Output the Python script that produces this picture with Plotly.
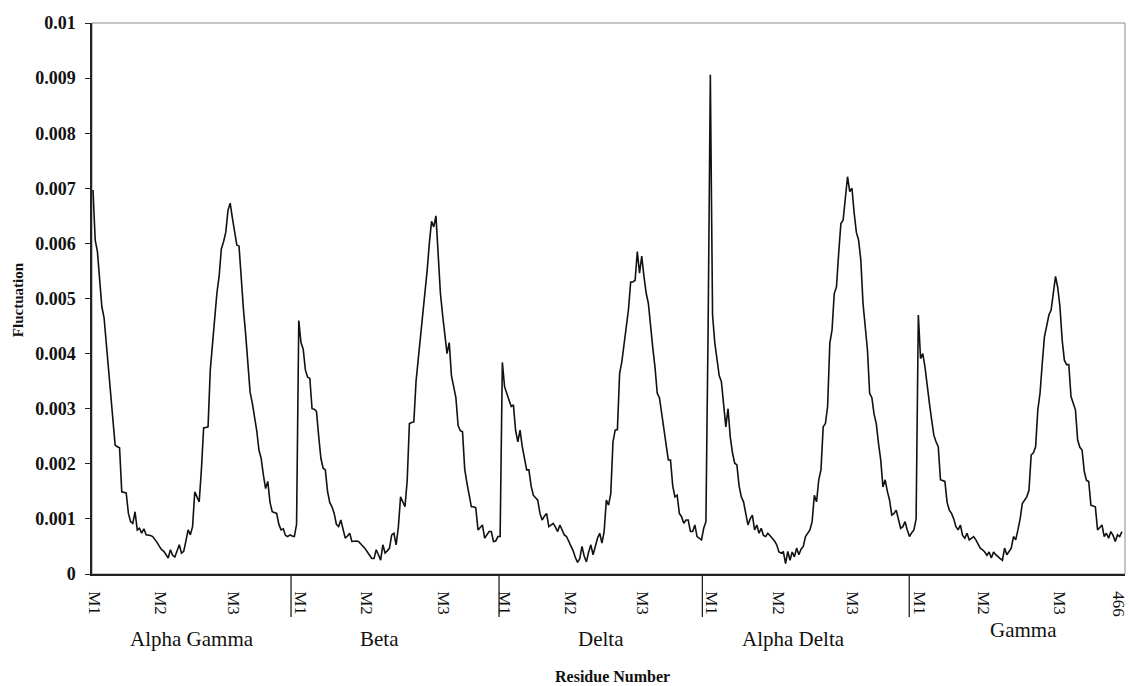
import plotly.graph_objects as go

# ---- data (fluctuation per residue) ----
alpha_gamma = [
    0.00697, 0.00606, 0.00585, 0.0053, 0.00485, 0.00465, 0.0042, 0.0037, 0.0033, 0.0028,
    0.00234, 0.00231, 0.00229, 0.00149, 0.00148, 0.00147, 0.0011, 0.00095, 0.00092, 0.00113,
    0.0008, 0.00083, 0.00074, 0.00082, 0.00071, 0.00071, 0.0007, 0.00068, 0.00063, 0.00057,
    0.0005, 0.00044, 0.00041, 0.00036, 0.00029, 0.00044, 0.00034, 0.00031, 0.00044, 0.00053,
    0.00038, 0.00041, 0.0006, 0.0008, 0.00071, 0.00086, 0.00149, 0.0014, 0.00131, 0.0019,
    0.00265, 0.00266, 0.00267, 0.0037, 0.00416, 0.0046, 0.0051, 0.0054, 0.0059, 0.00603,
    0.0062, 0.0066, 0.00673, 0.00646, 0.0062, 0.00597, 0.00595, 0.0053, 0.0048, 0.00435,
    0.0038, 0.0033, 0.0031, 0.00285, 0.0026, 0.00225, 0.0021, 0.0018, 0.00155, 0.00168,
    0.0013, 0.00113, 0.00112, 0.0011, 0.0009, 0.0008, 0.00082, 0.0007, 0.00068, 0.00071,
    0.00069, 0.00068, 0.0009,
]
beta = [
    0.0046, 0.0042, 0.00408, 0.0037, 0.00357, 0.00355, 0.0030, 0.00299, 0.00295, 0.0025,
    0.0021, 0.00192, 0.00189, 0.0015, 0.0013, 0.00122, 0.0011, 0.0009, 0.00086, 0.00098,
    0.0008, 0.00065, 0.00069, 0.00074, 0.00059, 0.0006, 0.0006, 0.00059, 0.00055, 0.0005,
    0.00046, 0.0004, 0.00035, 0.00028, 0.00028, 0.00044, 0.00035, 0.00025, 0.00053, 0.00038,
    0.00042, 0.00047, 0.00071, 0.00074, 0.00053, 0.00085, 0.0014, 0.0013, 0.00122, 0.0017,
    0.00273, 0.00275, 0.00276, 0.0035, 0.0039, 0.0043, 0.0047, 0.005, 0.0055, 0.006,
    0.0064, 0.0063, 0.0065, 0.0058, 0.0051, 0.0047, 0.0043, 0.004, 0.0042, 0.0036,
    0.0034, 0.0032, 0.0027, 0.0026, 0.00258, 0.0019, 0.00165, 0.0014, 0.00122, 0.00122,
    0.0012, 0.0008, 0.00085, 0.00089, 0.00065, 0.0007, 0.00077, 0.00077, 0.00059, 0.0006,
    0.00068, 0.00068,
]
delta = [
    0.00384, 0.0034, 0.00328, 0.0032, 0.00304, 0.00307, 0.0026, 0.0024, 0.00261, 0.00231,
    0.0021, 0.00189, 0.00189, 0.0016, 0.00143, 0.00138, 0.00134, 0.0011, 0.00098, 0.00105,
    0.0011, 0.00086, 0.00089, 0.00092, 0.00085, 0.00077, 0.00089, 0.0008, 0.00071, 0.00068,
    0.0006, 0.0005, 0.00042, 0.0003, 0.00021, 0.00028, 0.0005, 0.00032, 0.00022, 0.0004,
    0.00053, 0.00035, 0.00053, 0.00065, 0.00074, 0.00056, 0.00077, 0.00134, 0.00125, 0.00146,
    0.0024, 0.00261, 0.00262, 0.00364, 0.00385, 0.0042, 0.0045, 0.0048, 0.0053, 0.0053,
    0.00533, 0.00585, 0.00546, 0.00577, 0.0054, 0.0051, 0.00491, 0.00443, 0.0041, 0.00375,
    0.00328, 0.0032, 0.0029, 0.00267, 0.0023, 0.00207, 0.00207, 0.0016, 0.0014, 0.00143,
    0.0011, 0.00104, 0.00092, 0.00098, 0.00098, 0.00077, 0.00077, 0.00089, 0.00068, 0.00065,
    0.00062, 0.00083, 0.00095, 0.0045,
]
alpha_delta = [
    0.00906, 0.0047, 0.0042, 0.0039, 0.0036, 0.00349, 0.0031, 0.00267, 0.003, 0.00249,
    0.0022, 0.00201, 0.00198, 0.0016, 0.0014, 0.00131, 0.0011, 0.00089, 0.001, 0.00107,
    0.0008, 0.00089, 0.00074, 0.00083, 0.0007, 0.00068, 0.00074, 0.0007, 0.00065, 0.0006,
    0.00053, 0.0004, 0.00038, 0.0004, 0.00019, 0.00041, 0.00025, 0.0004, 0.00031, 0.00047,
    0.00035, 0.00045, 0.0005, 0.00068, 0.00074, 0.0008, 0.00095, 0.00143, 0.00131, 0.00171,
    0.00189, 0.00267, 0.00273, 0.00304, 0.00419, 0.00443, 0.00509, 0.00521, 0.00582, 0.00636,
    0.00642, 0.00679, 0.00721, 0.00694, 0.007, 0.00655, 0.0062, 0.00606, 0.0057, 0.00491,
    0.0045, 0.00407, 0.00328, 0.0032, 0.0029, 0.00273, 0.00237, 0.00207, 0.00158, 0.00171,
    0.0015, 0.00134, 0.00107, 0.0011, 0.00116, 0.00101, 0.00083, 0.00086, 0.00095, 0.0008,
    0.00068, 0.00075, 0.0008, 0.001,
]
gamma = [
    0.0047, 0.00391, 0.004, 0.00376, 0.00337, 0.0031, 0.0028, 0.00252, 0.0024, 0.00231,
    0.00171, 0.0017, 0.00168, 0.0013, 0.00116, 0.0011, 0.001, 0.00086, 0.0008, 0.00089,
    0.0007, 0.00065, 0.00074, 0.00062, 0.00065, 0.00068, 0.00062, 0.00055, 0.00047, 0.00044,
    0.0004, 0.00034, 0.0004, 0.00029, 0.0004, 0.00035, 0.00031, 0.00028, 0.00025, 0.00047,
    0.00035, 0.0004, 0.00047, 0.00068, 0.00062, 0.0008, 0.001, 0.00128, 0.00135, 0.0014,
    0.00152, 0.00216, 0.0022, 0.00231, 0.00298, 0.00328, 0.00382, 0.00431, 0.0045, 0.0047,
    0.00479, 0.0051, 0.0054, 0.0052, 0.00485, 0.00425, 0.00388, 0.0038, 0.0038, 0.00322,
    0.0031, 0.00298, 0.00243, 0.0023, 0.00225, 0.00186, 0.0017, 0.00168, 0.00125, 0.00123,
    0.00122, 0.0008, 0.00085, 0.00089, 0.00068, 0.00074, 0.00065, 0.00077, 0.0007, 0.00059,
    0.00071, 0.00068, 0.00077,
]

subunit_names = ["Alpha Gamma", "Beta", "Delta", "Alpha Delta", "Gamma"]
subunit_label_x = [45.7, 130.7, 230.5, 317.4, 421.7]
subunit_boundaries = [90.5, 184.5, 276.4, 369.9]
tick_labels = ["M1", "M2", "M3"] * 5 + ["466"]
tick_positions = [1.6, 31.3, 64.5, 94.6, 124.6, 159.6, 187.0, 216.9, 249.2,
                  280.6, 311.0, 344.1, 374.6, 403.4, 438.0, 464.5]
y_ticks = [0, 0.001, 0.002, 0.003, 0.004, 0.005, 0.006, 0.007, 0.008, 0.009, 0.01]
y_tick_text = ["0", "0.001", "0.002", "0.003", "0.004", "0.005", "0.006",
               "0.007", "0.008", "0.009", "0.01"]

fluct = alpha_gamma + beta + delta + alpha_delta + gamma
residues = list(range(1, len(fluct) + 1))

FONT = "Liberation Serif, Times New Roman, serif"

fig = go.Figure()
fig.add_trace(go.Scatter(x=residues, y=fluct, mode="lines",
                         line=dict(color="#111111", width=1.6),
                         hoverinfo="x+y", showlegend=False))

# plot-area frame (grey)
fig.add_shape(type="rect", xref="paper", yref="paper", x0=0, x1=1, y0=0, y1=1,
              line=dict(color="#8c8c8c", width=1), layer="below")

# subunit separators below the axis
for b in subunit_boundaries:
    fig.add_shape(type="line", xref="x", yref="paper", x0=b, x1=b, y0=0, y1=-0.078,
                  line=dict(color="#222222", width=1.3))

for name, xc in zip(subunit_names, subunit_label_x):
    fig.add_annotation(x=xc, y=(-0.1016 if name == "Gamma" else -0.118),
                       xref="x", yref="paper", text=name, showarrow=False,
                       font=dict(family=FONT, size=21, color="#111111"),
                       xanchor="center", yanchor="middle")

fig.add_annotation(x=236, y=-0.186, xref="x", yref="paper", text="<b>Residue Number</b>",
                   showarrow=False, font=dict(family=FONT, size=16, color="#111111"),
                   xanchor="center", yanchor="middle")
fig.add_annotation(x=-0.0716, y=0.497, xref="paper", yref="paper", text="<b>Fluctuation</b>",
                   showarrow=False, textangle=-90,
                   font=dict(family=FONT, size=15, color="#111111"),
                   xanchor="center", yanchor="middle")

fig.update_layout(
    width=1129, height=686,
    margin=dict(l=92, r=4, t=23, b=112, autoexpand=False),
    paper_bgcolor="white", plot_bgcolor="white",
    xaxis=dict(range=[0.55, 467.4], tickmode="array", tickvals=tick_positions,
               ticktext=tick_labels, tickangle=90, ticks="outside", ticklen=12,
               tickcolor="rgba(0,0,0,0)", showgrid=False, zeroline=False,
               showline=True, linecolor="#222222", linewidth=1.5,
               ticklabeloverflow="allow", automargin=False,
               tickfont=dict(family=FONT, size=17, color="#111111")),
    yaxis=dict(range=[0, 0.01], tickmode="array", tickvals=y_ticks, ticktext=y_tick_text,
               ticks="outside", ticklen=5, tickcolor="#222222", tickwidth=1.3,
               showgrid=False, zeroline=False, showline=True, linecolor="#222222",
               linewidth=1.5, ticklabelstandoff=6, automargin=False,
               tickfont=dict(family=FONT, size=18, color="#111111", weight="bold")),
)

fig.write_html("out.html")
